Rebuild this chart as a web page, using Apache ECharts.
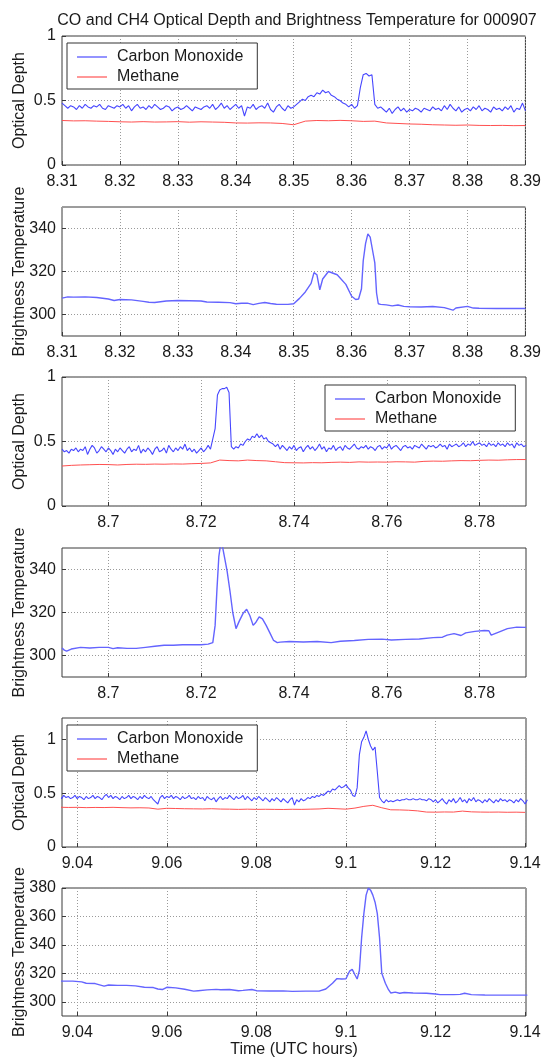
<!DOCTYPE html>
<html><head><meta charset="utf-8">
<script src="https://cdn.jsdelivr.net/npm/echarts@6/dist/echarts.min.js"></script>
<style>html,body{margin:0;padding:0;background:#fff}#c{width:544px;height:1059px}</style>
</head><body><div id="c"></div>
<script>
const titleText = 'CO and CH4 Optical Depth and Brightness Temperature for 000907';
const seriesNames = ['Carbon Monoxide', 'Methane'];
const xAxisTitle = 'Time (UTC hours)';
const odName = 'Optical Depth';
const btName = 'Brightness Temperature';

// tick labels
const xTicks1 = [8.31, 8.32, 8.33, 8.34, 8.35, 8.36, 8.37, 8.38, 8.39];
const xTicks2 = [8.70, 8.72, 8.74, 8.76, 8.78];
const xTicks3 = [9.04, 9.06, 9.08, 9.10, 9.12, 9.14];
const odTicks = [0, 0.5, 1];
const btTicks1 = [300, 320, 340];
const btTicks3 = [300, 320, 340, 360, 380];

// ---- segment 1 (8.31 - 8.39) ----
const co1Start = 8.31, co1Step = 0.0005;
const co1 = [
0.48,0.46,0.44,0.46,0.45,0.43,0.46,0.44,0.47,0.45,
0.44,0.46,0.45,0.47,0.44,0.43,0.46,0.45,0.44,0.46,
0.45,0.47,0.44,0.46,0.42,0.45,0.47,0.44,0.45,0.43,
0.46,0.44,0.47,0.45,0.43,0.44,0.46,0.45,0.42,0.44,
0.45,0.43,0.44,0.46,0.44,0.42,0.45,0.44,0.43,0.45,
0.46,0.44,0.47,0.43,0.45,0.48,0.44,0.46,0.43,0.45,
0.47,0.44,0.46,0.38,0.45,0.44,0.47,0.43,0.45,0.46,
0.44,0.48,0.43,0.41,0.45,0.47,0.44,0.42,0.46,0.44,
0.45,0.47,0.49,0.51,0.50,0.53,0.54,0.53,0.56,0.55,
0.58,0.56,0.57,0.54,0.53,0.51,0.50,0.48,0.47,0.45,
0.47,0.44,0.46,0.60,0.70,0.71,0.69,0.70,0.47,0.44,
0.45,0.43,0.41,0.44,0.40,0.43,0.45,0.42,0.44,0.41,
0.43,0.42,0.44,0.43,0.41,0.44,0.43,0.42,0.45,0.43,
0.44,0.42,0.46,0.43,0.47,0.44,0.42,0.45,0.41,0.43,
0.44,0.42,0.45,0.43,0.46,0.42,0.44,0.43,0.41,0.45,
0.43,0.44,0.42,0.45,0.43,0.46,0.41,0.44,0.43,0.48,
0.42];
const ch1Start = 8.31, ch1Step = 0.002;
const ch1 = [0.345,0.342,0.343,0.340,0.338,0.335,0.333,0.336,0.333,0.334,
0.336,0.332,0.335,0.333,0.331,0.326,0.325,0.327,0.326,0.322,
0.312,0.340,0.345,0.343,0.346,0.343,0.338,0.340,0.326,0.322,
0.318,0.316,0.312,0.310,0.308,0.310,0.307,0.306,0.307,0.305,0.306];
const bt1Times = [8.310,8.311,8.312,8.314,8.316,8.318,8.319,8.320,8.322,8.324,8.325,8.326,8.328,8.330,8.332,8.334,8.335,8.337,8.339,8.340,8.341,8.342,8.343,8.344,8.345,8.346,8.347,8.349,8.350,8.351,8.352,8.353,8.3535,8.354,8.3545,8.355,8.356,8.3575,8.359,8.3600,8.3607,8.3612,8.3617,8.362,8.3624,8.3628,8.3632,8.3636,8.364,8.3643,8.3646,8.365,8.366,8.367,8.368,8.369,8.370,8.372,8.374,8.376,8.3775,8.378,8.380,8.381,8.382,8.385,8.390];
const bt1 = [307.6,308.2,308.1,308.2,307.9,307.2,306.5,307.0,306.8,306.1,305.7,305.6,306.3,306.5,306.4,306.3,305.8,305.7,305.5,305.0,305.2,305.3,304.6,305.2,305.6,305.1,304.8,304.7,305.0,307.5,310.5,314.5,319.5,318.5,311.5,316.5,320.0,318.5,314.0,308.5,307.0,307.2,312.0,325.0,333.0,337.5,336.0,330.0,324.0,310.0,305.0,304.7,304.5,304.0,304.4,303.8,303.6,303.5,303.7,303.2,302.0,303.0,303.8,303.0,302.9,302.8,302.8];

// ---- segment 2 (8.69 - 8.79) ----
const co2Start = 8.69, co2Step = 0.0005;
const co2 = [
0.44,0.42,0.43,0.41,0.44,0.43,0.45,0.42,0.44,0.43,
0.46,0.40,0.44,0.47,0.45,0.41,0.43,0.46,0.44,0.42,
0.45,0.43,0.40,0.44,0.42,0.45,0.43,0.41,0.44,0.46,
0.42,0.44,0.43,0.47,0.41,0.44,0.42,0.45,0.43,0.40,
0.44,0.46,0.42,0.43,0.45,0.41,0.47,0.44,0.42,0.45,
0.43,0.46,0.44,0.48,0.43,0.45,0.42,0.44,0.41,0.43,
0.45,0.42,0.44,0.47,0.44,0.52,0.60,0.86,0.90,0.91,
0.91,0.92,0.88,0.46,0.44,0.46,0.45,0.48,0.47,0.50,
0.52,0.51,0.54,0.53,0.56,0.53,0.55,0.52,0.53,0.50,
0.49,0.48,0.46,0.48,0.44,0.47,0.45,0.43,0.46,0.44,
0.47,0.43,0.45,0.46,0.42,0.45,0.47,0.44,0.46,0.43,
0.45,0.48,0.44,0.46,0.42,0.45,0.44,0.47,0.43,0.45,
0.46,0.43,0.47,0.45,0.44,0.46,0.48,0.45,0.44,0.46,
0.45,0.47,0.44,0.46,0.45,0.43,0.46,0.47,0.44,0.46,
0.45,0.48,0.44,0.46,0.47,0.45,0.43,0.46,0.47,0.45,
0.46,0.44,0.47,0.46,0.45,0.48,0.46,0.44,0.47,0.46,
0.47,0.45,0.46,0.48,0.46,0.47,0.44,0.48,0.46,0.47,
0.48,0.46,0.47,0.49,0.46,0.48,0.47,0.50,0.47,0.48,
0.49,0.47,0.48,0.46,0.49,0.47,0.48,0.46,0.49,0.47,
0.48,0.46,0.49,0.47,0.48,0.45,0.49,0.47,0.48,0.46,
0.47];
const ch2Start = 8.69, ch2Step = 0.002;
const ch2 = [0.310,0.315,0.318,0.320,0.322,0.321,0.318,0.322,0.324,0.323,
0.325,0.324,0.326,0.325,0.328,0.330,0.334,0.356,0.352,0.350,
0.356,0.352,0.350,0.343,0.336,0.335,0.334,0.336,0.335,0.338,
0.340,0.338,0.342,0.340,0.341,0.340,0.343,0.342,0.340,0.346,
0.348,0.347,0.350,0.352,0.351,0.354,0.356,0.355,0.358,0.360,0.360];
const bt2Times = [8.690,8.6905,8.691,8.692,8.694,8.696,8.698,8.700,8.701,8.702,8.704,8.706,8.708,8.710,8.712,8.714,8.716,8.718,8.720,8.7215,8.7225,8.7230,8.7234,8.7238,8.7242,8.7246,8.7250,8.7256,8.7262,8.7268,8.7275,8.7282,8.729,8.7298,8.7305,8.7312,8.7318,8.7325,8.7332,8.734,8.7348,8.7356,8.7364,8.737,8.739,8.742,8.745,8.748,8.750,8.753,8.756,8.759,8.761,8.764,8.767,8.770,8.772,8.773,8.7745,8.776,8.777,8.779,8.781,8.782,8.7825,8.784,8.786,8.788,8.790];
const bt2 = [303.5,302.5,302.0,303.0,303.8,303.5,303.8,303.8,303.2,303.6,303.3,303.3,303.8,304.3,304.8,304.8,305.0,305.0,305.0,305.3,306.0,314.0,331.0,346.0,352.0,350.5,346.0,339.0,330.0,320.0,312.5,316.0,319.5,321.5,318.5,314.0,315.5,318.0,317.0,314.0,310.5,307.0,306.0,306.2,306.5,306.3,306.5,306.0,306.6,307.0,307.5,307.6,307.2,307.5,307.7,308.3,308.5,309.5,310.2,309.3,310.5,311.2,311.6,311.5,309.5,310.8,312.5,313.2,313.1];

// ---- segment 3 (9.036 - 9.14) ----
const co3Start = 9.036, co3Step = 0.0005;
const co3 = [
0.47,0.45,0.48,0.46,0.47,0.45,0.46,0.48,0.45,0.47,
0.46,0.44,0.47,0.45,0.46,0.48,0.45,0.47,0.46,0.44,
0.47,0.49,0.46,0.48,0.45,0.47,0.46,0.44,0.47,0.45,
0.46,0.48,0.45,0.47,0.46,0.44,0.47,0.45,0.48,0.46,
0.45,0.47,0.44,0.42,0.40,0.46,0.48,0.45,0.47,0.46,
0.48,0.45,0.47,0.46,0.44,0.47,0.45,0.46,0.48,0.45,
0.46,0.44,0.47,0.45,0.46,0.43,0.47,0.45,0.44,0.46,
0.42,0.45,0.47,0.44,0.46,0.45,0.48,0.46,0.44,0.47,
0.45,0.46,0.48,0.44,0.47,0.45,0.43,0.46,0.44,0.47,
0.45,0.43,0.46,0.44,0.42,0.45,0.43,0.46,0.44,0.42,
0.45,0.43,0.41,0.44,0.46,0.39,0.44,0.42,0.45,0.43,
0.44,0.46,0.45,0.47,0.46,0.48,0.47,0.49,0.48,0.50,
0.52,0.51,0.54,0.53,0.55,0.57,0.55,0.56,0.58,0.55,
0.53,0.48,0.47,0.55,0.86,0.98,1.02,1.08,1.00,0.94,
0.90,0.93,0.70,0.46,0.43,0.41,0.44,0.42,0.43,0.42,
0.43,0.44,0.43,0.44,0.44,0.45,0.44,0.44,0.45,0.44,
0.44,0.45,0.44,0.44,0.43,0.45,0.44,0.42,0.44,0.41,
0.43,0.45,0.42,0.40,0.44,0.42,0.45,0.41,0.43,0.46,
0.42,0.44,0.41,0.45,0.43,0.46,0.42,0.44,0.43,0.41,
0.44,0.42,0.45,0.43,0.41,0.44,0.42,0.45,0.43,0.44,
0.42,0.44,0.43,0.41,0.44,0.42,0.45,0.43,0.40,0.44];
const ch3Start = 9.036, ch3Step = 0.002;
const ch3 = [0.370,0.368,0.369,0.366,0.368,0.367,0.369,0.366,0.364,0.365,
0.363,0.352,0.360,0.358,0.356,0.355,0.354,0.356,0.353,0.352,
0.350,0.352,0.350,0.351,0.350,0.349,0.351,0.350,0.352,0.354,
0.360,0.356,0.352,0.362,0.378,0.388,0.365,0.346,0.345,0.342,
0.336,0.325,0.324,0.326,0.325,0.334,0.327,0.325,0.324,0.325,
0.323,0.324,0.322];
const bt3Times = [9.036,9.039,9.041,9.042,9.044,9.046,9.047,9.049,9.051,9.053,9.055,9.057,9.058,9.059,9.060,9.062,9.064,9.066,9.067,9.069,9.071,9.072,9.074,9.076,9.077,9.079,9.080,9.083,9.086,9.088,9.091,9.094,9.0955,9.097,9.098,9.099,9.100,9.1008,9.1014,9.102,9.1025,9.103,9.1035,9.104,9.1045,9.105,9.1055,9.106,9.1065,9.107,9.1075,9.108,9.1088,9.1095,9.110,9.111,9.112,9.113,9.115,9.118,9.120,9.121,9.124,9.1255,9.1265,9.128,9.131,9.135,9.1405];
const bt3 = [314.5,314.5,314.0,313.0,312.8,311.0,311.8,311.5,311.5,311.2,310.2,310.0,309.0,308.6,310.2,309.8,308.8,307.5,307.8,308.4,308.7,308.5,308.6,307.8,308.0,308.6,307.8,307.6,307.7,307.3,307.5,307.5,309.0,313.0,316.3,316.0,316.2,321.5,322.8,319.0,316.0,322.0,345.0,362.0,375.0,380.0,378.5,375.0,370.0,362.0,345.0,320.0,313.0,308.5,306.2,306.8,306.0,306.5,306.2,306.0,305.5,305.0,305.0,305.2,306.0,305.0,304.8,304.7,304.7];

const FONT = "'Liberation Sans', Arial, Helvetica, sans-serif";
const FS = 16;
const TXT = '#1a1a1a';
const CO_COLOR = '#4646ff';
const CH_COLOR = '#ff5050';
const BT_COLOR = '#6464ff';

function regular(start, step, vals) {
  return vals.map((v, i) => [+(start + i * step).toFixed(5), v]);
}
function paired(ts, vals) {
  return vals.map((v, i) => [ts[i], v]);
}
function fmt(v) { return String(+(+v).toFixed(3)); }

const panels = [
  {xMin: 8.31, xMax: 8.39, xTicks: xTicks1, yMin: 0, yMax: 1, yTicks: odTicks, yName: odName},
  {xMin: 8.31, xMax: 8.39, xTicks: xTicks1, yMin: 290, yMax: 350, yTicks: btTicks1, yName: btName},
  {xMin: 8.69, xMax: 8.79, xTicks: xTicks2, yMin: 0, yMax: 1, yTicks: odTicks, yName: odName},
  {xMin: 8.69, xMax: 8.79, xTicks: xTicks2, yMin: 290, yMax: 350, yTicks: btTicks1, yName: btName},
  {xMin: 9.0366, xMax: 9.1402, xTicks: xTicks3, yMin: 0, yMax: 1.2, yTicks: odTicks, yName: odName},
  {xMin: 9.0366, xMax: 9.1402, xTicks: xTicks3, yMin: 290, yMax: 380, yTicks: btTicks3, yName: btName}
];
const tops = [36, 207, 377, 548, 718, 888];
const H = 129;

const grid = [], xAxis = [], yAxis = [];
panels.forEach((p, i) => {
  grid.push({left: 62, right: 18, top: tops[i], height: H, show: true,
    borderColor: '#3a3a3a', borderWidth: 1, backgroundColor: 'transparent'});
  xAxis.push({
    gridIndex: i, type: 'value', min: p.xMin, max: p.xMax,
    axisLine: {show: false},
    axisTick: {show: true, inside: true, length: 4, customValues: p.xTicks, lineStyle: {color: '#3a3a3a'}},
    axisLabel: {customValues: p.xTicks, formatter: fmt, fontSize: FS, color: TXT, fontFamily: FONT, margin: 9},
    splitLine: {show: true, lineStyle: {color: '#9a9a9a', type: [1, 2], width: 1}},
    name: i === 5 ? xAxisTitle : '', nameLocation: 'middle', nameGap: 26, nameMoveOverlap: false,
    nameTextStyle: {fontSize: FS, color: TXT, fontFamily: FONT}
  });
  yAxis.push({
    gridIndex: i, type: 'value', min: p.yMin, max: p.yMax,
    axisLine: {show: false},
    axisTick: {show: true, inside: true, length: 4, customValues: p.yTicks, lineStyle: {color: '#3a3a3a'}},
    axisLabel: {customValues: p.yTicks, formatter: fmt, fontSize: FS, color: TXT, fontFamily: FONT, margin: 6},
    splitLine: {show: true, lineStyle: {color: '#9a9a9a', type: [1, 2], width: 1}},
    name: p.yName, nameLocation: 'middle', nameGap: 34, nameMoveOverlap: false,
    nameTextStyle: {fontSize: FS, color: TXT, fontFamily: FONT}
  });
});

function lineSeries(name, idx, data, color, width) {
  return {name: name, type: 'line', xAxisIndex: idx, yAxisIndex: idx, data: data,
    symbol: 'none', showSymbol: false, color: color, itemStyle: {color: color},
    lineStyle: {color: color, width: width}, clip: true, animation: false};
}

const series = [
  lineSeries(seriesNames[0], 0, regular(co1Start, co1Step, co1), CO_COLOR, 1.1),
  lineSeries(seriesNames[1], 0, regular(ch1Start, ch1Step, ch1), CH_COLOR, 1),
  lineSeries('bt1', 1, paired(bt1Times, bt1), BT_COLOR, 1.4),
  lineSeries(seriesNames[0], 2, regular(co2Start, co2Step, co2), CO_COLOR, 1.1),
  lineSeries(seriesNames[1], 2, regular(ch2Start, ch2Step, ch2), CH_COLOR, 1),
  lineSeries('bt2', 3, paired(bt2Times, bt2), BT_COLOR, 1.4),
  lineSeries(seriesNames[0], 4, regular(co3Start, co3Step, co3), CO_COLOR, 1.1),
  lineSeries(seriesNames[1], 4, regular(ch3Start, ch3Step, ch3), CH_COLOR, 1),
  lineSeries('bt3', 5, paired(bt3Times, bt3), BT_COLOR, 1.4)
];

const legendColors = ['#5a5aff', '#ff6060'];
function legendAt(left, top) {
  return {
    data: seriesNames.map((n, k) => ({name: n,
      itemStyle: {color: legendColors[k], borderWidth: 0, borderColor: legendColors[k]}})),
    left: left, top: top, orient: 'vertical',
    icon: 'path://M0,0H30V1.3H0Z', itemWidth: 30, itemHeight: 16, itemGap: 4,
    padding: [6, 14, 4, 10], backgroundColor: '#fff', borderColor: '#333', borderWidth: 1,
    selectedMode: false,
    itemStyle: {borderWidth: 0},
    textStyle: {fontSize: FS, color: TXT, fontFamily: FONT, padding: [0, 0, 0, 5]}};
}

const chart = echarts.init(document.getElementById('c'), null, {renderer: 'canvas'});
chart.setOption({
  animation: false,
  backgroundColor: '#fff',
  title: {text: titleText, left: 292, top: 8, textAlign: 'center',
    textStyle: {fontSize: FS, fontWeight: 'normal', color: TXT, fontFamily: FONT}},
  legend: [legendAt(67, 43), legendAt(325, 385), legendAt(67, 725)],
  grid: grid, xAxis: xAxis, yAxis: yAxis, series: series
});
</script>
</body></html>
